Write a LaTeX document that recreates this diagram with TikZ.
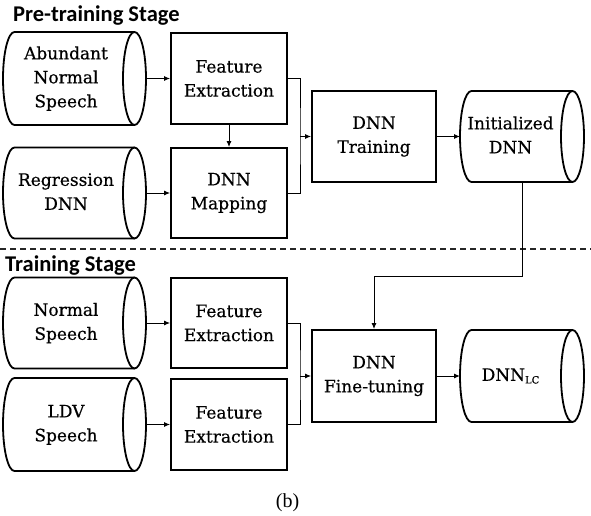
\documentclass[tikz,border=0pt]{standalone}
\usepackage{fontspec}
\setmainfont[FakeBold=0.5]{DejaVu Serif}
\newfontfamily\headfont{Carlito}
\newfontfamily\capfont{Liberation Serif}
\usetikzlibrary{arrows.meta}

% lines of a cylinder label, kept clear of the right-hand end face
% optional #1: room left free on the right
\newcommand{\cyltxt}[2][23pt]{\begin{tabular}{@{}c@{}}#2\end{tabular}\kern#1\relax}

% outline of a horizontal cylinder drawn round an (undrawn) node
% #1 node name, #2 half of the node height
\newcommand{\drawcyl}[2]{%
  \draw[outline] ([xshift=-11.5pt]#1.north east) -- ([xshift=11.5pt]#1.north west)
    arc[start angle=90, end angle=270, x radius=11.5pt, y radius=#2]
    -- ([xshift=-11.5pt]#1.south east);
  \draw[outline] ([xshift=-11.5pt]#1.east) ellipse [x radius=11.5pt, y radius=#2];
}

\begin{document}
\begin{tikzpicture}[x=1pt, y=1pt,
  outline/.style={line width=1.8pt, black},
  procbox/.style={draw, line width=1.8pt, rectangle, align=center,
    font=\fontsize{17}{24}\selectfont, inner sep=0pt},
  cylbox/.style={rectangle, inner sep=0pt, outer sep=0pt,
    font=\fontsize{17}{24}\selectfont},
  arr/.style={line width=1pt, -{Latex[length=6pt, width=5pt]}},
  link/.style={line width=1pt},
  heading/.style={font=\headfont\bfseries\fontsize{22.5}{24}\selectfont, inner sep=0pt, anchor=base west},
  stagesep/.style={line width=1.6pt, dash pattern=on 6pt off 4pt, black!85}
]
\useasboundingbox (0,0) rectangle (591,515);

% ---------------- pre-training stage ----------------
\node[heading] (head1) at (13,493) {Pre-training Stage};

\node[cylbox, minimum width=143pt, minimum height=93pt] (cyl1) at (74.5,436.5)
  {\cyltxt[17pt]{Abundant\\Normal\\Speech}};
\drawcyl{cyl1}{46.5pt}
\node[procbox, minimum width=116pt, minimum height=91pt] (fe1) at (229,436.5)
  {Feature\\Extraction};

\node[cylbox, minimum width=143pt, minimum height=91pt] (cyl2) at (74.5,322)
  {\cyltxt[17pt]{Regression\\DNN}};
\drawcyl{cyl2}{45.5pt}
\node[procbox, minimum width=116pt, minimum height=90pt] (map) at (229,322)
  {DNN\\Mapping};

\node[procbox, minimum width=124pt, minimum height=91pt] (train) at (374,378.5)
  {DNN\\Training};
\node[cylbox, minimum width=124pt, minimum height=91pt] (init) at (522,378.5)
  {\cyltxt{Initialized\\DNN}};
\drawcyl{init}{45.5pt}

\coordinate (j1) at (300,378.5);

\draw[arr] (cyl1.east) -- (fe1.west);
\draw[arr] (cyl2.east) -- (map.west);
\draw[arr] (fe1.south) -- (map.north);
\draw[link] (fe1.east) -| (j1) |- (map.east);
\draw[arr] (j1) -- (train.west);
\draw[arr] (train.east) -- (init.west);

% stage separator
\draw[stagesep] (0,266) -- (591,266);

% ---------------- training stage ----------------
\node[heading] (head2) at (5,244) {Training Stage};

\node[cylbox, minimum width=143pt, minimum height=91pt] (cyl3) at (74.5,192)
  {\cyltxt[17pt]{Normal\\Speech}};
\drawcyl{cyl3}{45.5pt}
\node[procbox, minimum width=116pt, minimum height=90pt] (fe3) at (229,192)
  {Feature\\Extraction};

\node[cylbox, minimum width=143pt, minimum height=93pt] (cyl4) at (74.5,90.5)
  {\cyltxt[17pt]{LDV\\Speech}};
\drawcyl{cyl4}{46.5pt}
\node[procbox, minimum width=116pt, minimum height=91pt] (fe4) at (229,90.5)
  {Feature\\Extraction};

\node[procbox, minimum width=124pt, minimum height=92pt] (fine) at (374,139)
  {DNN\\Fine-tuning};
\node[cylbox, minimum width=124pt, minimum height=92pt] (lc) at (522,139)
  {\cyltxt{DNN\raisebox{-0.3ex}{\fontsize{10}{10}\selectfont LC}}};
\drawcyl{lc}{46pt}

\coordinate (j2) at (300,139);

\draw[arr] (cyl3.east) -- (fe3.west);
\draw[arr] (cyl4.east) -- (fe4.west);
\draw[link] (fe3.east) -| (j2) |- (fe4.east);
\draw[arr] (j2) -- (fine.west);
\draw[arr] (fine.east) -- (lc.west);
\draw[arr] (init.south) -- ++(0,-94) -| (fine.north);

% caption
\node[font=\capfont\fontsize{20}{22}\selectfont, inner sep=0pt] (cap) at (287.5,12) {(b)};
\end{tikzpicture}
\end{document}
